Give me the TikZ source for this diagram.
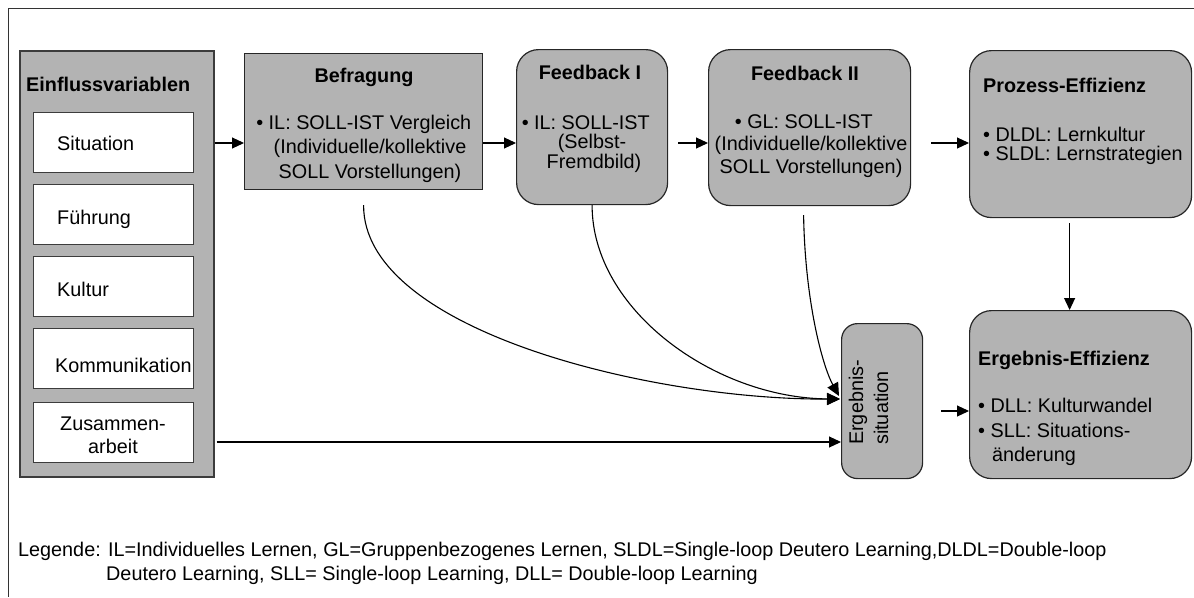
\documentclass[tikz,border=0pt]{standalone}
\usepackage{fontspec}
\setmainfont{Liberation Sans}
\usetikzlibrary{arrows.meta}
\definecolor{boxgray}{RGB}{179,179,179}
\definecolor{edgegray}{RGB}{60,60,60}
\newcommand{\lbl}{\fontsize{19.8}{24}\selectfont}
\begin{document}
\begin{tikzpicture}[x=1pt,y=-1pt,
  txt/.style={anchor=base west, inner sep=0pt, font=\lbl},
  ctxt/.style={anchor=base, inner sep=0pt, font=\lbl},
  ttl/.style={anchor=base west, inner sep=0pt, font=\lbl\bfseries},
  cttl/.style={anchor=base, inner sep=0pt, font=\lbl\bfseries},
  panel/.style={draw=edgegray, line width=1.5pt, fill=boxgray, anchor=north west, inner sep=0pt},
  factor/.style={draw=edgegray, line width=1.2pt, fill=white, anchor=north west, inner sep=0pt,
    minimum width=160pt, minimum height=60pt},
  stage/.style={draw=black!85, line width=1.2pt, fill=boxgray, anchor=north west, inner sep=0pt},
  roundstage/.style={stage, rounded corners=22pt},
  flow/.style={draw=black, line width=1.1pt, -{Triangle[length=12pt,width=11pt]}},
  bigflow/.style={flow, -{Triangle[length=13pt,width=12pt]}},
  frameline/.style={draw=black!80, line width=1pt},
]
\useasboundingbox (0,0) rectangle (1194,597);

% outer frame (only top and left edges lie inside the page)
\draw[frameline] (1194,8) -- (8,8) -- (8,597);

% influence variables
\node[panel, minimum width=194pt, minimum height=426pt] (ev) at (19,50) {};
\node[ttl] (evt) at (26,91) {Einflussvariablen};
\node[factor] (f1) at (33,112) {};
\node[factor] (f2) at (33,184) {};
\node[factor] (f3) at (33,256) {};
\node[factor] (f4) at (33,328) {};
\node[factor] (f5) at (33,402) {};
\node[txt] (f1t) at (57,150) {Situation};
\node[txt] (f2t) at (57,224) {Führung};
\node[txt] (f3t) at (57,296) {Kultur};
\node[txt] (f4t) at (55,372) {Kommunikation};
\node[ctxt] (f5a) at (113,430) {Zusammen-};
\node[ctxt] (f5b) at (113,453) {arbeit};

% survey
\node[stage, minimum width=238pt, minimum height=136pt] (befr) at (244,53) {};
\node[cttl] (befrt) at (364,82) {Befragung};
\node[ctxt] (befr1) at (370,129) {\llap{• }IL: SOLL-IST Vergleich};
\node[ctxt] (befr2) at (370,153) {(Individuelle/kollektive};
\node[ctxt] (befr3) at (370,178) {SOLL Vorstellungen)};

% feedback I
\node[roundstage, minimum width=151pt, minimum height=155pt] (fb1) at (516,49) {};
\node[cttl] (fb1t) at (590,79) {Feedback I};
\node[ctxt] (fb1a) at (592,129) {\llap{• }IL: SOLL-IST};
\node[ctxt] (fb1b) at (592,148) {(Selbst-};
\node[ctxt] (fb1c) at (594,168) {Fremdbild)};

% feedback II
\node[roundstage, minimum width=202pt, minimum height=156pt] (fb2) at (708,49) {};
\node[cttl] (fb2t) at (805,80) {Feedback II};
\node[ctxt] (fb2a) at (810,128) {\llap{• }GL: SOLL-IST};
\node[ctxt] (fb2b) at (811,150) {(Individuelle/kollektive};
\node[ctxt] (fb2c) at (811,173) {SOLL Vorstellungen)};

% process efficiency
\node[roundstage, minimum width=222pt, minimum height=167pt] (proz) at (969,50) {};
\node[ttl] (prozt) at (983,92) {Prozess-Effizienz};
\node[txt] (proza) at (983,141) {• DLDL: Lernkultur};
\node[txt] (prozb) at (983,160) {• SLDL: Lernstrategien};

% result situation
\node[stage, rounded corners=16pt, minimum width=81pt, minimum height=155pt] (ergs) at (841,323) {};
\node[txt, rotate=90] (ergsa) at (863,445) {Ergebnis-};
\node[txt, rotate=90] (ergsb) at (888,445) {situation};

% result efficiency
\node[roundstage, minimum width=222pt, minimum height=168pt] (erge) at (969,310) {};
\node[ttl] (erget) at (978,365) {Ergebnis-Effizienz};
\node[txt] (ergea) at (978,412) {• DLL: Kulturwandel};
\node[txt] (ergeb) at (978,437) {• SLL: Situations-};
\node[txt] (ergec) at (992,461) {änderung};

% legend
\node[txt] (leg1) at (18,556) {Legende: IL=Individuelles Lernen, GL=Gruppenbezogenes Lernen, SLDL=Single-loop Deutero Learning,DLDL=Double-loop};
\node[txt] (leg2) at (106,580) {Deutero Learning, SLL= Single-loop Learning, DLL= Double-loop Learning};

% connector rows
\coordinate (r1) at (0,143);
\coordinate (r2) at (0,411);
\coordinate (r3) at (0,442);
\coordinate (hub) at (840,399);
\coordinate (hubb) at (839,396);

% main flow
\draw[flow] (ev.east |- r1) -- (befr.west |- r1);
\draw[flow] (befr.east |- r1) -- (fb1.west |- r1);
\draw[flow] ([xshift=10pt]fb1.east |- r1) -- (fb2.west |- r1);
\draw[flow] ([xshift=20pt]fb2.east |- r1) -- (proz.west |- r1);
\draw[flow] ([xshift=-11pt,yshift=-5pt]proz.south) -- ([xshift=-11pt]erge.north);
\draw[flow] ([xshift=18pt]ergs.east |- r2) -- (erge.west |- r2);

% influences converging on the result situation
\draw[flow] ([xshift=2pt]ev.east |- r3) -- (ergs.west |- r3);
\draw[bigflow] ([yshift=-15pt]befr.south) .. controls (363,330) and (650,400) .. (hub);
\draw[bigflow] (fb1.south) .. controls (592,310) and (715,398) .. (hub);
\draw[bigflow] ([xshift=-6pt,yshift=-9pt]fb2.south) .. controls (805,300) and (822,365) .. (hubb);
\end{tikzpicture}
\end{document}
